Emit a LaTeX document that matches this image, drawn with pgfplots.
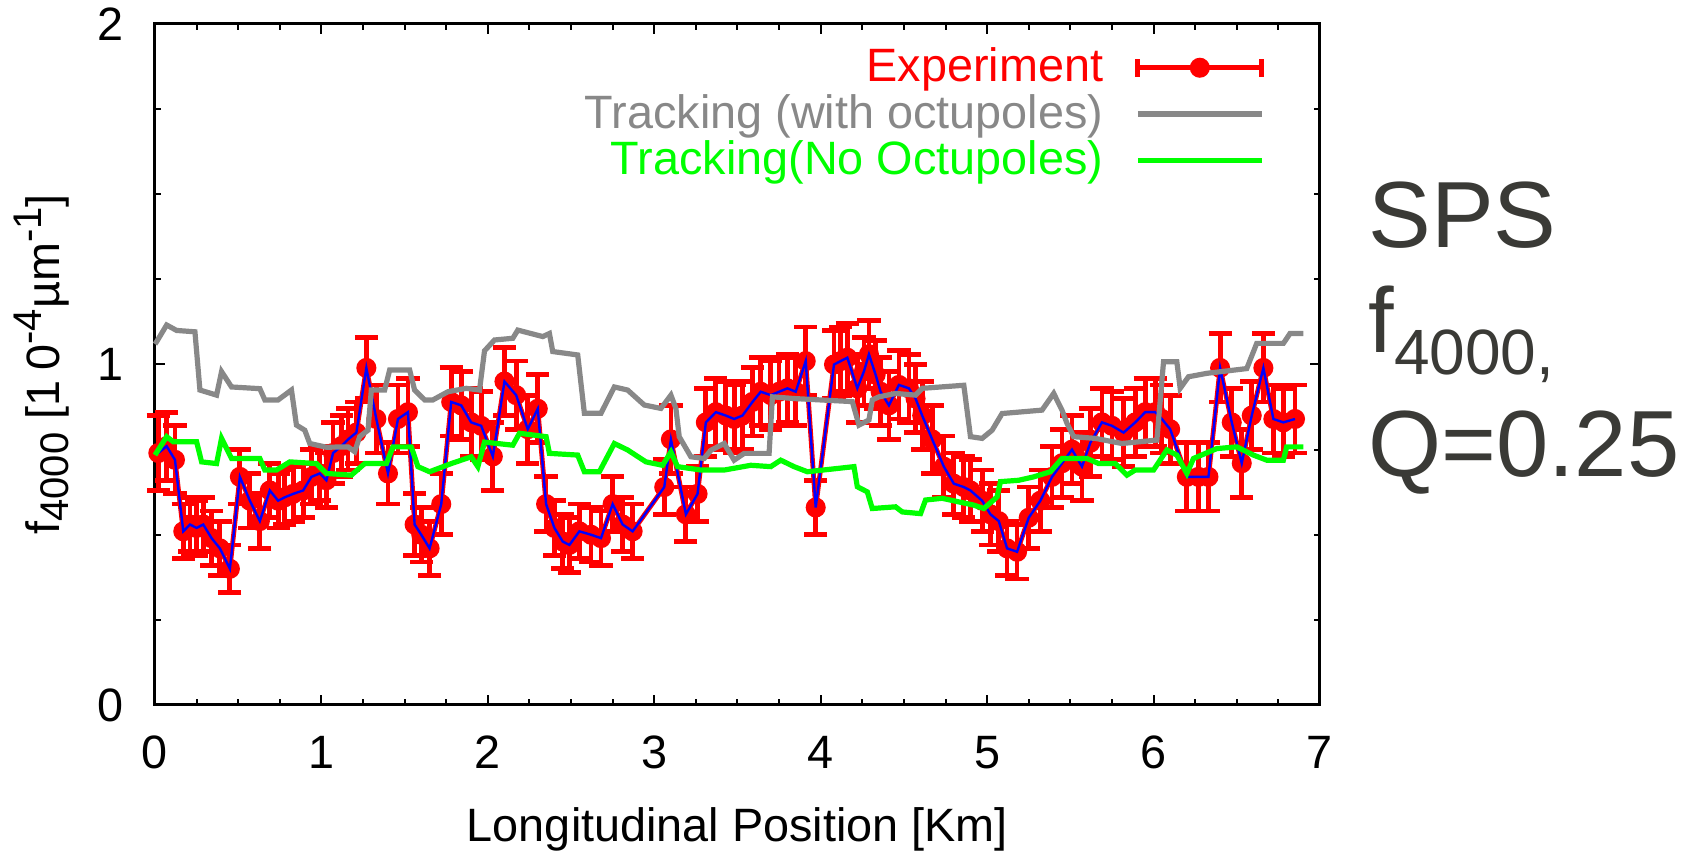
\documentclass[border=0pt]{standalone}
\usepackage{fontspec}
\setmainfont{Liberation Sans}
\usepackage{pgfplots}
\usepackage{pgfplotstable}
\pgfplotsset{compat=1.18}
\definecolor{lgray}{RGB}{136,136,136}
\definecolor{lgreen}{RGB}{0,255,0}
\definecolor{tgray}{RGB}{58,58,54}

\pgfplotstableread{
x y e
0.02 0.74 0.11
0.07 0.76 0.10
0.12 0.72 0.10
0.17 0.51 0.08
0.21 0.53 0.08
0.25 0.52 0.08
0.29 0.53 0.08
0.34 0.49 0.08
0.39 0.46 0.08
0.45 0.40 0.07
0.51 0.67 0.08
0.57 0.60 0.08
0.63 0.54 0.08
0.69 0.63 0.08
0.74 0.60 0.08
0.78 0.61 0.08
0.83 0.62 0.08
0.89 0.63 0.08
0.94 0.67 0.08
0.99 0.68 0.08
1.03 0.66 0.08
1.07 0.74 0.09
1.12 0.76 0.09
1.16 0.78 0.09
1.21 0.80 0.09
1.27 0.99 0.09
1.33 0.84 0.10
1.40 0.68 0.09
1.46 0.84 0.10
1.52 0.86 0.10
1.56 0.53 0.09
1.60 0.50 0.08
1.65 0.46 0.08
1.72 0.59 0.09
1.78 0.89 0.10
1.84 0.88 0.10
1.90 0.83 0.10
1.96 0.82 0.10
2.03 0.73 0.10
2.10 0.95 0.10
2.17 0.91 0.10
2.24 0.81 0.10
2.30 0.87 0.10
2.35 0.59 0.08
2.40 0.52 0.08
2.45 0.48 0.08
2.49 0.47 0.08
2.55 0.51 0.08
2.62 0.50 0.08
2.68 0.49 0.08
2.75 0.59 0.08
2.81 0.53 0.08
2.87 0.51 0.08
3.06 0.64 0.08
3.10 0.78 0.10
3.19 0.56 0.08
3.26 0.62 0.08
3.31 0.83 0.10
3.37 0.86 0.10
3.43 0.85 0.10
3.48 0.84 0.10
3.53 0.85 0.10
3.59 0.89 0.10
3.64 0.92 0.10
3.70 0.91 0.10
3.75 0.92 0.10
3.80 0.93 0.10
3.85 0.92 0.10
3.91 1.01 0.10
3.97 0.58 0.08
4.08 1.00 0.10
4.12 1.01 0.10
4.16 1.02 0.10
4.22 0.93 0.10
4.26 0.98 0.10
4.29 1.03 0.10
4.33 0.97 0.10
4.36 0.92 0.10
4.41 0.88 0.10
4.47 0.94 0.10
4.53 0.93 0.10
4.57 0.90 0.10
4.61 0.85 0.10
4.67 0.78 0.10
4.74 0.70 0.09
4.80 0.65 0.09
4.86 0.64 0.09
4.90 0.63 0.09
4.97 0.60 0.09
5.02 0.56 0.09
5.07 0.54 0.09
5.12 0.46 0.08
5.18 0.45 0.08
5.25 0.55 0.09
5.32 0.60 0.09
5.39 0.67 0.09
5.45 0.71 0.10
5.51 0.75 0.10
5.57 0.70 0.10
5.62 0.77 0.10
5.69 0.83 0.10
5.75 0.82 0.10
5.82 0.80 0.10
5.89 0.83 0.10
5.95 0.86 0.10
6.01 0.86 0.10
6.05 0.84 0.10
6.10 0.81 0.10
6.20 0.67 0.10
6.27 0.67 0.10
6.33 0.67 0.10
6.40 0.99 0.10
6.47 0.83 0.10
6.53 0.71 0.10
6.59 0.85 0.10
6.66 0.99 0.10
6.72 0.84 0.10
6.78 0.83 0.10
6.85 0.84 0.10
}\expdata

\pgfplotstableread{
x y
0.00 1.060
0.01 1.067
0.07 1.116
0.13 1.100
0.24 1.096
0.27 0.925
0.37 0.910
0.40 0.979
0.46 0.934
0.63 0.929
0.66 0.896
0.74 0.896
0.82 0.925
0.85 0.822
0.90 0.807
0.93 0.768
1.03 0.757
1.16 0.758
1.20 0.744
1.23 0.788
1.28 0.807
1.30 0.925
1.38 0.925
1.41 0.984
1.53 0.984
1.56 0.925
1.62 0.896
1.67 0.896
1.76 0.920
1.87 0.930
1.95 0.925
1.98 1.040
2.04 1.072
2.15 1.077
2.18 1.101
2.33 1.082
2.37 1.091
2.39 1.038
2.54 1.028
2.58 0.857
2.68 0.857
2.76 0.934
2.84 0.925
2.94 0.881
3.04 0.871
3.10 0.910
3.13 0.871
3.15 0.788
3.22 0.729
3.30 0.724
3.34 0.748
3.42 0.768
3.48 0.719
3.54 0.739
3.69 0.739
3.71 0.905
3.84 0.900
4.19 0.891
4.23 0.822
4.29 0.837
4.31 0.896
4.35 0.905
4.45 0.915
4.57 0.910
4.61 0.930
4.86 0.939
4.90 0.788
4.97 0.783
5.03 0.807
5.09 0.856
5.33 0.866
5.40 0.915
5.45 0.866
5.48 0.827
5.52 0.788
5.65 0.783
5.81 0.768
6.02 0.778
6.06 1.008
6.14 1.008
6.16 0.930
6.21 0.964
6.32 0.974
6.56 0.988
6.62 1.062
6.78 1.062
6.82 1.091
6.90 1.091
}\octdata

\pgfplotstableread{
x y
0.00 0.734
0.07 0.788
0.11 0.773
0.25 0.773
0.28 0.714
0.37 0.709
0.40 0.783
0.46 0.724
0.63 0.724
0.66 0.690
0.73 0.690
0.81 0.714
0.97 0.709
1.03 0.680
1.18 0.675
1.26 0.709
1.39 0.709
1.43 0.758
1.54 0.758
1.58 0.700
1.65 0.685
1.78 0.709
1.90 0.729
1.94 0.700
1.98 0.772
2.15 0.763
2.19 0.798
2.35 0.788
2.37 0.739
2.54 0.734
2.58 0.685
2.67 0.685
2.76 0.768
2.84 0.749
2.95 0.714
3.05 0.704
3.10 0.743
3.14 0.700
3.28 0.690
3.42 0.690
3.58 0.704
3.70 0.700
3.76 0.719
3.84 0.700
3.92 0.685
4.20 0.700
4.22 0.641
4.28 0.626
4.31 0.577
4.45 0.582
4.49 0.567
4.60 0.562
4.63 0.602
4.73 0.607
4.92 0.587
4.98 0.577
5.06 0.611
5.08 0.656
5.19 0.660
5.28 0.670
5.38 0.685
5.45 0.724
5.60 0.724
5.67 0.709
5.77 0.709
5.84 0.675
5.89 0.690
6.00 0.690
6.08 0.749
6.14 0.734
6.20 0.680
6.24 0.724
6.38 0.753
6.50 0.758
6.60 0.734
6.68 0.719
6.78 0.719
6.80 0.758
6.90 0.758
}\nooctdata

\begin{document}
\begin{tikzpicture}
\begin{axis}[
  scale only axis,
  width=291.25pt, height=170.25pt,
  xmin=0, xmax=7, ymin=0, ymax=2,
  xtick={0,1,2,3,4,5,6,7},
  ytick={0,1,2},
  minor x tick num=3,
  minor y tick num=3,
  tick align=inside,
  major tick length=2.6pt,
  minor tick length=1.4pt,
  every tick/.style={black, line width=0.5pt},
  axis line style={black, line width=0.75pt},
  /pgf/number format/assume math mode=true,
  tick label style={font=\fontsize{11.7}{13}\selectfont, inner sep=1pt},
  xticklabel style={yshift=-6.6pt},
  yticklabel style={xshift=-6.6pt},
  every axis x label/.style={at={(axis description cs:0.5,0)}, anchor=center, yshift=-31pt, inner sep=0pt},
  every axis y label/.style={at={(axis description cs:-0.097,0.5)}, anchor=center, rotate=90, inner sep=0pt},
  label style={font=\fontsize{11.7}{13}\selectfont},
  xlabel={Longitudinal Position [Km]},
  ylabel={f\raisebox{-2.2pt}{\fontsize{10}{11}\selectfont 4000} [1\hspace{2.5pt}0\raisebox{4.5pt}{\fontsize{10}{11}\selectfont -4}µm\raisebox{4.5pt}{\fontsize{10}{11}\selectfont -1}]},
  clip=false,
  clip mode=individual,
  legend plot pos=right,
  legend cell align=right,
  legend style={at={(rel axis cs:0.953,0.978)}, anchor=north east, draw=none, fill=none,
    font=\fontsize{11.7}{13}\selectfont, row sep=-2.4pt, inner sep=0pt,
    column sep=6pt},
]
\addplot[red, line width=1.2pt, mark=*, mark size=1.9pt,
  error bars/.cd, y dir=both, y explicit,
  error bar style={red, line width=1.2pt},
  error mark options={red, line width=1.2pt, mark size=2.9pt, rotate=90},
  /pgfplots/legend image code/.code={
    \draw[red, line width=1.2pt] (0pt,0pt) -- (31pt,0pt);
    \draw[red, line width=1.2pt] (0pt,-2.3pt) -- (0pt,2.3pt);
    \draw[red, line width=1.2pt] (31pt,-2.3pt) -- (31pt,2.3pt);
    \fill[red] (15.5pt,0pt) circle (1.9pt);}]
  table[x=x, y=y, y error=e] {\expdata};
\addlegendentry{\textcolor{red}{Experiment}}
\addplot[blue, line width=0.6pt, forget plot] table[x=x, y=y] {\expdata};
\addplot[lgray, line width=1.3pt,
  legend image code/.code={\draw[lgray, line width=1.3pt] (0pt,0pt) -- (31pt,0pt);}]
  table[x=x, y=y] {\octdata};
\addlegendentry{\textcolor{lgray}{Tracking (with octupoles)}}
\addplot[lgreen, line width=1.3pt,
  legend image code/.code={\draw[lgreen, line width=1.3pt] (0pt,0pt) -- (31pt,0pt);}]
  table[x=x, y=y] {\nooctdata};
\addlegendentry{\textcolor{lgreen}{Tracking(No Octupoles)}}
\node[anchor=base west, inner sep=0pt, text=tgray, font=\fontsize{23.5}{28}\selectfont]
  at (rel axis cs:1.041,0.6725) {SPS};
\node[anchor=base west, inner sep=0pt, text=tgray, font=\fontsize{23}{28}\selectfont]
  at (rel axis cs:1.041,0.5169) {f\raisebox{-5.5pt}{\fontsize{16}{19}\selectfont 4000,}};
\node[anchor=base west, inner sep=0pt, text=tgray, font=\fontsize{23.5}{28}\selectfont]
  at (rel axis cs:1.041,0.3348) {Q=0.25};
\end{axis}
\path (-38.75pt,-37.5pt) rectangle (385pt,176.25pt);
\end{tikzpicture}
\end{document}
